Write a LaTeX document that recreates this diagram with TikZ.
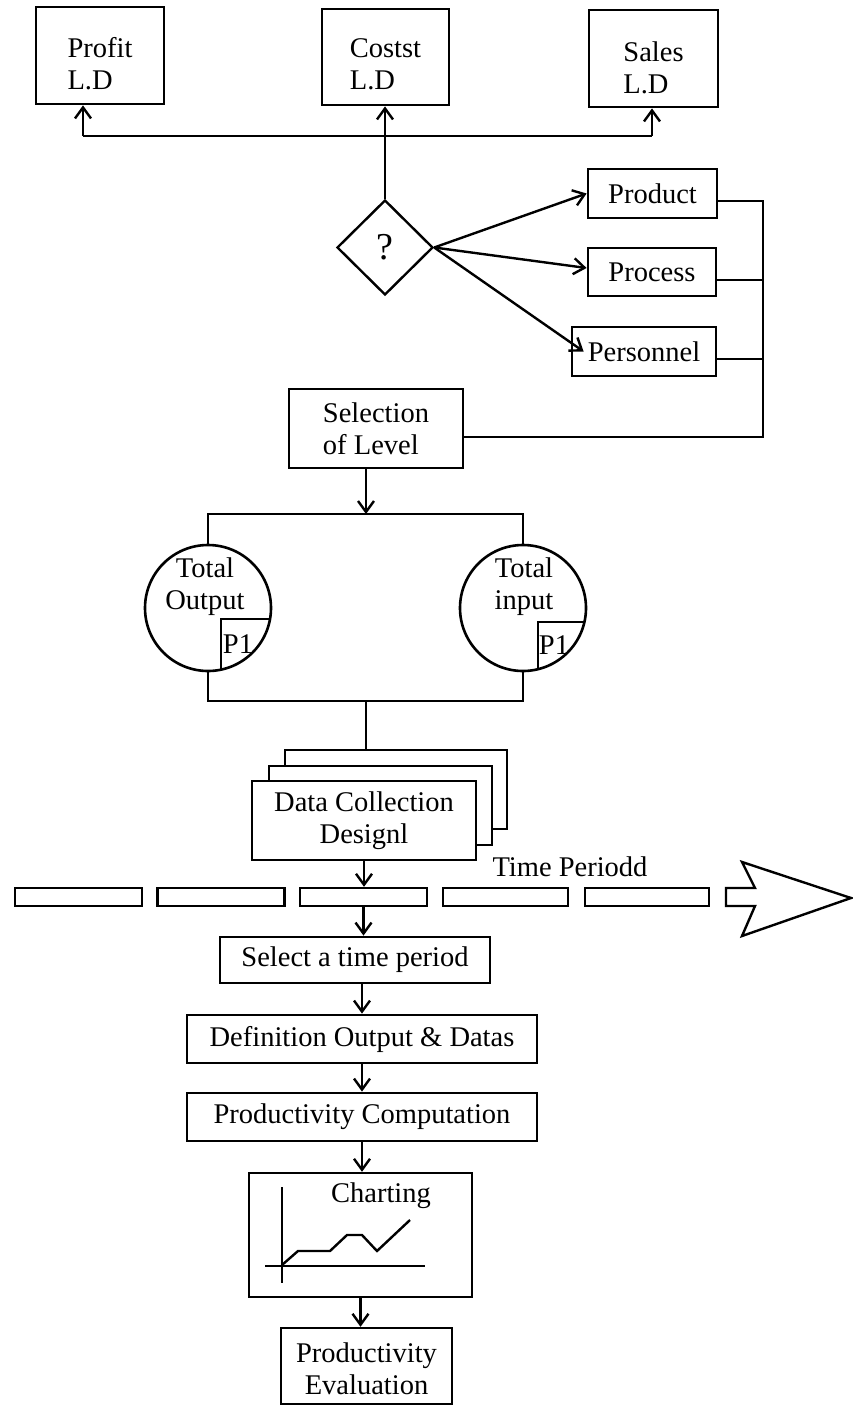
\documentclass[tikz,border=0pt]{standalone}
\usepackage{fontspec}
\setmainfont{Liberation Serif}
\usetikzlibrary{arrows.meta,shapes.geometric}
\begin{document}
\begin{tikzpicture}[x=1pt,y=-1pt,
  lab/.style={font=\fontsize{28.5}{32}\selectfont, inner sep=0pt},
  box/.style={lab, draw, line width=2.8pt, align=center},
  conn/.style={line width=2.4pt},
  arr/.style={conn, -{Straight Barb[length=11pt,width=16pt,line width=2.4pt]}},
  tbar/.style={draw, line width=2.4pt, minimum height=18, minimum width=127, inner sep=0pt},
  thin/.style={line width=2.4pt},
]
\useasboundingbox (0,0) rectangle (852,1408);
\fill[white] (0,0) rectangle (852,1408);

% top boxes
\node[box, minimum width=128, minimum height=97] (profit) at (100,55.5) {};
\node[box, minimum width=127, minimum height=96] (costs) at (385.5,57) {};
\node[box, minimum width=129, minimum height=97] (sales) at (653.5,58.5) {};
\node[lab, align=left] (profitt) at ([yshift=-8pt]profit.center) {Profit\\L.D};
\node[lab, align=left] (costst) at ([yshift=-7pt]costs.center) {Costst\\L.D};
\node[lab, align=left] (salest) at ([yshift=-9pt]sales.center) {Sales\\L.D};

\coordinate (busL) at (83,136);
\coordinate (busR) at (652,136);
\draw[conn] (busL) -- (busR);
\draw[arr] (busL) -- (busL |- profit.south);
\draw[arr] (busR) -- (busR |- sales.south);

% diamond
\node[lab, draw, diamond, line width=2.4pt, minimum width=96, minimum height=95, font=\fontsize{38}{40}\selectfont] (dia) at (385,247.5) {?};
\draw[arr] (dia.north) -- (dia.north |- costs.south);

% product / process / personnel
\node[box, minimum width=129, minimum height=49] (prod) at (652.5,193.5) {Product};
\node[box, minimum width=128, minimum height=48] (proc) at (652,272) {Process};
\node[box, minimum width=144, minimum height=49] (pers) at (644,351.5) {Personnel};

\draw[arr] (dia.east) -- (prod.west);
\draw[arr] (dia.east) -- ([yshift=4pt]proc.west);
\draw[arr] (dia.east) -- ([xshift=13pt]pers.west);

% selection
\node[box, align=left, minimum width=174, minimum height=79] (sel) at (376,428.5) {Selection\\of Level};

\coordinate (rb1) at (763,201);
\coordinate (rb4) at (763,437);
\draw[conn] ([yshift=-7.5pt]prod.east) -- (rb1) -- (rb4) -- ([yshift=-8.5pt]sel.east);
\draw[conn] ([yshift=-8pt]proc.east) -- +(47,0);
\draw[conn] ([yshift=-7.5pt]pers.east) -- +(47,0);

% circles
\coordinate (tb) at (366,514);
\coordinate (bb) at (366,701);
\draw[arr] (sel.south -| tb) -- (tb);
\node[draw, circle, line width=2.6pt, minimum size=126, inner sep=0pt] (outc) at (208,608) {};
\node[draw, circle, line width=2.6pt, minimum size=126, inner sep=0pt] (inc) at (523,608) {};
\node[lab, align=center] (outt) at (205,587) {Total\\Output};
\node[lab, align=center] (intt) at (524,587) {Total\\input};
\node[lab] (p1a) at (238,644) {P1};
\node[lab] (p1b) at (554,645) {P1};
\draw[thin] (270,619) -- (221,619) -- (221,669.6);
\draw[thin] (584.4,622) -- (538,622) -- (538,669.2);
\draw[conn] (outc.north) -- (outc.north |- tb) -- (inc.north |- tb) -- (inc.north);
\draw[conn] (outc.south) -- (outc.south |- bb) -- (inc.south |- bb) -- (inc.south);

% data collection cards
\node[box, fill=white, minimum width=222, minimum height=79] (dcb) at (396,789.5) {};
\node[box, fill=white, minimum width=223, minimum height=79] (dcm) at (380.5,805.5) {};
\node[box, fill=white, minimum width=224, minimum height=79] (dcf) at (364,820.5) {Data Collection\\Designl};
\draw[conn] (bb) -- (bb |- dcb.north);

% time bar
\node[tbar] (r1) at (78.5,897) {};
\node[tbar] (r2) at (221,897) {};
\node[tbar] (r3) at (363.5,897) {};
\node[tbar, minimum width=125] (r4) at (505.5,897) {};
\node[tbar, minimum width=124] (r5) at (647,897) {};
\draw[thin] (726,888) -- (755,888) -- (742,862) -- (851,898) -- (742,936) -- (755,906) -- (726,906) -- cycle;
\node[lab] (tp) at (570,867) {Time Periodd};
\draw[arr] (dcf.south) -- (dcf.south |- r3.north);

% lower chain
\node[box, minimum width=270, minimum height=46] (selp) at (355,960) {Select a time period};
\draw[arr] (r3.south) -- (r3.south |- selp.north);
\node[box, minimum width=350, minimum height=48] (def) at (362,1039) {Definition Output \& Datas};
\draw[arr] (def.north |- selp.south) -- (def.north);
\node[box, minimum width=350, minimum height=48] (comp) at (362,1117) {Productivity Computation};
\draw[arr] (def.south) -- (comp.north);

\node[box, line width=2.4pt, minimum width=223, minimum height=124] (chart) at (360.5,1235) {};
\draw[arr] (comp.south) -- (comp.south |- chart.north);
\node[lab] (ctitle) at (381,1196) {Charting};
\draw[thin] (282,1187) -- (282,1283);
\draw[thin] (265,1266) -- (425,1266);
\draw[thin] (282,1265) -- (298,1251) -- (330,1251) -- (347,1235) -- (362,1235) -- (377,1251) -- (410,1220);

\node[box, line width=2.4pt, minimum width=171, minimum height=76] (eval) at (366.5,1366) {};
\node[lab, align=center] (evalt) at ([yshift=-3pt]eval.center) {Productivity\\Evaluation};
\draw[arr] (chart.south) -- (chart.south |- eval.north);
\end{tikzpicture}
\end{document}
